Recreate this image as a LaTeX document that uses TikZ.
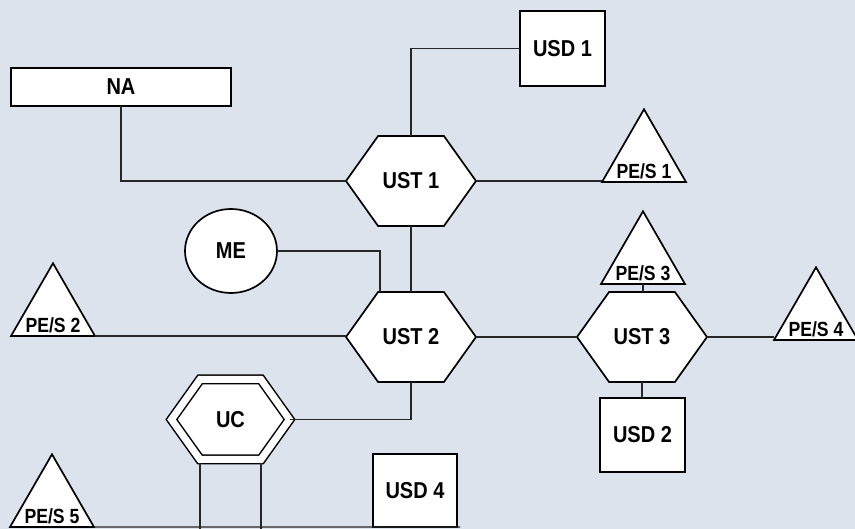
\documentclass[tikz,border=0pt]{standalone}
\usepackage{fontspec}
\setmainfont{Liberation Sans}
\newfontfamily\labfont[FakeStretch=0.87]{Liberation Sans}
\newfontfamily\trifont[FakeStretch=0.86]{Liberation Sans}
\usetikzlibrary{shapes.geometric,shapes.symbols,calc}
\definecolor{bgcol}{RGB}{221,227,236}
\tikzset{
  shp/.style={draw=black, fill=white, line width=1.7pt, inner sep=0pt, outer sep=0pt,
              font=\labfont\bfseries\fontsize{23}{23}\selectfont},
  boxnode/.style={shp, rectangle},
  hexnode/.style={shp, signal, signal to=west and east, signal pointer angle=109,
                  minimum width=130pt, minimum height=90pt},
  trinode/.style={shp, regular polygon, regular polygon sides=3, minimum size=97pt},
  trilabel/.style={inner sep=0pt, anchor=base, font=\trifont\bfseries\fontsize{20.5}{20.5}\selectfont},
  conn/.style={draw=black!85, line width=1.2pt},
}
\begin{document}
\begin{tikzpicture}[x=1pt,y=-1pt]
\fill[bgcol] (0,0) rectangle (855,529);
\useasboundingbox (0,0) rectangle (855,529);

% rectangles
\node[boxnode, minimum width=220pt, minimum height=38pt] (na) at (121,87) {NA};
\node[boxnode, minimum width=85pt, minimum height=75pt] (usd1) at (562.5,48.5) {USD 1};
\node[boxnode, minimum width=85pt, minimum height=74pt] (usd2) at (642.5,435) {USD 2};
\node[boxnode, minimum width=84pt, minimum height=73pt] (usd4) at (415,490.5) {USD 4};

% ME
\node[shp, ellipse, minimum width=92pt, minimum height=84pt] (me) at (231,251) {ME};

% hexagons
\node[hexnode] (u1) at (411,181) {UST 1};
\node[hexnode] (u2) at (411,337) {UST 2};
\node[hexnode] (u3) at (642,337) {UST 3};
\node[hexnode, double=white, double distance=7pt, line width=1.5pt,
      minimum width=118pt, minimum height=80pt] (uc) at (230.5,419.5) {UC};

% triangles
\node[trinode] (p1) at (644,157.8) {};
\node[trilabel] at ($(p1.side 2)+(0,-4)$) {PE/S 1};
\node[trinode] (p2) at (53,311.8) {};
\node[trilabel] at ($(p2.side 2)+(0,-4)$) {PE/S 2};
\node[trinode] (p3) at (643,259.8) {};
\node[trilabel] at ($(p3.side 2)+(0,-4)$) {PE/S 3};
\node[trinode] (p4) at (816,315.8) {};
\node[trilabel] at ($(p4.side 2)+(0,-4)$) {PE/S 4};
\node[trinode] (p5) at (52,502.8) {};
\node[trilabel] at ($(p5.side 2)+(0,-4)$) {PE/S 5};

\coordinate (bot) at (460,527);
\coordinate (edge) at (0,532);
\coordinate (ucl) at ($(uc.south)+(-30.5,4)$);
\coordinate (ucr) at ($(uc.south)+(30.5,4)$);

% connectors
\draw[conn] (na.south) |- (u1.west);
\draw[conn] (u1.north) |- (usd1.west);
\draw[conn] (u1.east) -- (u1.east -| p1.corner 2);
\draw[conn] (u1.south) -- (u2.north);
\draw[conn] (me.east) -| ($(u2.north)+(-31,0)$);
\draw[conn] (p2.corner 3) -- (p2.corner 3 -| u2.west);
\draw[conn] (uc.east) -| (u2.south);
\draw[conn] (u2.east) -- (u3.west);
\draw[conn] (p3.side 2) -- (p3.side 2 |- u3.north);
\draw[conn] (u3.south) -- (u3.south |- usd2.north);
\draw[conn] (u3.east) -- (u3.east -| p4.corner 2);
\draw[conn] (ucl) -- (ucl |- edge);
\draw[conn] (ucr) -- (ucr |- edge);
\draw[conn] (p5.corner 3) -- (bot);
\end{tikzpicture}
\end{document}
